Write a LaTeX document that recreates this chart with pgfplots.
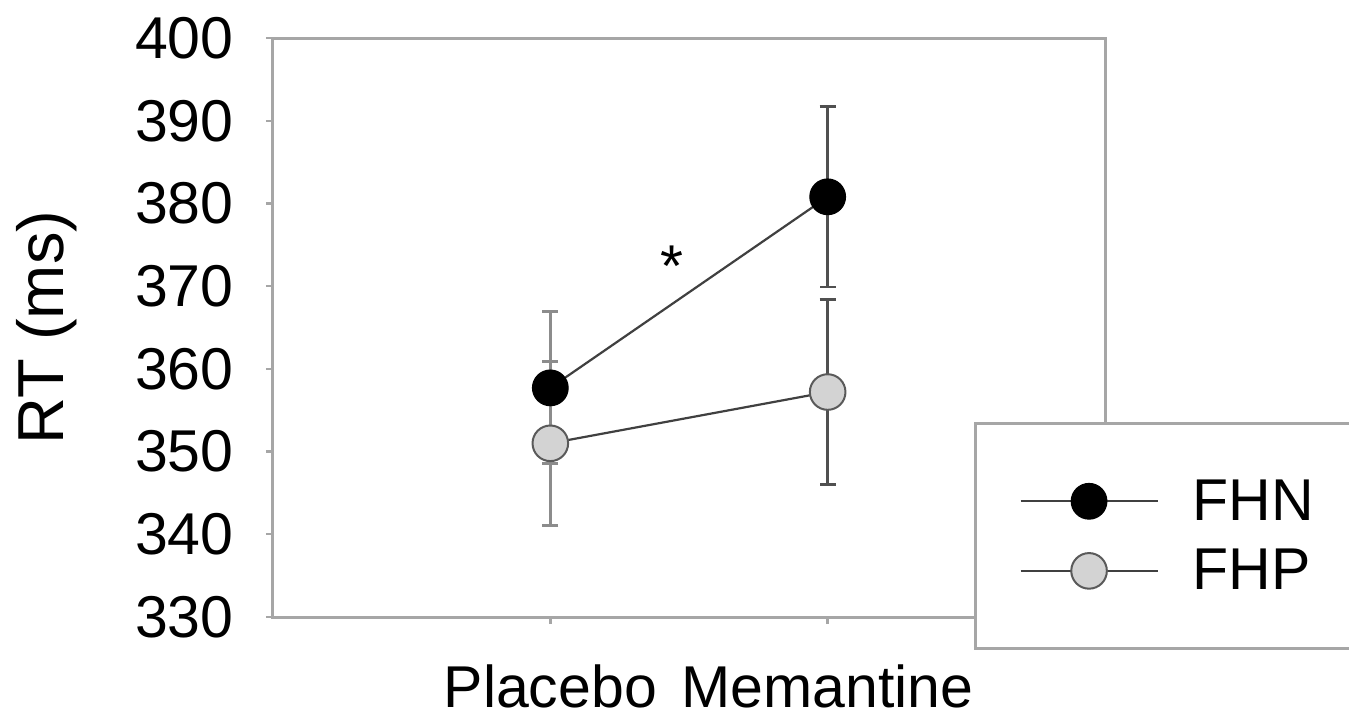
\documentclass[border=0pt]{standalone}
\usepackage{fontspec}
\setmainfont{Liberation Sans}
\usepackage{pgfplots}
\pgfplotsset{compat=1.18}
\usepackage{pgfplotstable}
\definecolor{axgray}{HTML}{A6A6A6}
\definecolor{errP}{HTML}{8C8C8C}
\definecolor{errM}{HTML}{505050}
\definecolor{lineC}{HTML}{404040}
\definecolor{fhpfill}{HTML}{D3D3D3}
\definecolor{fhpedge}{HTML}{5A5A5A}

\pgfplotstableread{
x y e
1 357.7 9.2
2 380.8 10.9
}\fhn
\pgfplotstableread{
x y e
1 351.0 9.9
2 357.2 11.2
}\fhp

\begin{document}
\begin{tikzpicture}
\begin{axis}[
  at={(136.5pt,48pt)}, anchor=south west,
  scale only axis, width=416pt, height=289.5pt,
  xmin=0, xmax=3, ymin=330, ymax=400,
  xtick={1,2}, xticklabels={Placebo,Memantine},
  ytick={330,340,...,400},
  tick align=outside, tick pos=left, major tick length=3.5pt,
  axis line style={draw=axgray, line width=1.5pt},
  tick style={draw=axgray, line width=1.2pt},
  tick label style={font=\fontsize{29.5}{35}\selectfont},
  /pgf/number format/assume math mode=true,
  yticklabel style={anchor=east, inner sep=0pt, xshift=-16pt},
  xticklabel style={anchor=north, inner sep=0pt, yshift=-20pt},
  ylabel={RT (ms)},
  ylabel style={at={(rel axis cs:-0.2524,0.5)}, anchor=base, inner sep=0pt, font=\fontsize{32.5}{38}\selectfont},
  legend cell align=left,
  legend style={at={(rel axis cs:0.8425,0.3368)}, anchor=north west,
    draw=axgray, line width=1.5pt, fill=white,
    inner xsep=22pt, inner ysep=28pt, row sep=13pt, column sep=17pt,
    font=\fontsize{29.5}{35}\selectfont, nodes={inner sep=0pt}},
  legend image code/.code={\draw[mark repeat=2, mark phase=2, #1] plot coordinates {(0pt,0pt) (34.25pt,0pt) (68.5pt,0pt)};},
  clip=false,
]
% error bars (drawn first, under the markers)
\addplot[forget plot, draw=none, restrict x to domain=0.5:1.5,
  error bars/.cd, y dir=both, y explicit,
  error bar style={draw=errP, line width=1.5pt, solid},
  error mark options={rotate=90, mark size=4pt, draw=errP, line width=1.5pt}]
  table[x=x, y=y, y error=e]{\fhn};
\addplot[forget plot, draw=none, restrict x to domain=0.5:1.5,
  error bars/.cd, y dir=both, y explicit,
  error bar style={draw=errP, line width=1.5pt, solid},
  error mark options={rotate=90, mark size=4pt, draw=errP, line width=1.5pt}]
  table[x=x, y=y, y error=e]{\fhp};
\addplot[forget plot, draw=none, restrict x to domain=1.5:2.5,
  error bars/.cd, y dir=both, y explicit,
  error bar style={draw=errM, line width=1.2pt, solid},
  error mark options={rotate=90, mark size=4pt, draw=errM, line width=1.2pt}]
  table[x=x, y=y, y error=e]{\fhn};
\addplot[forget plot, draw=none, restrict x to domain=1.5:2.5,
  error bars/.cd, y dir=both, y explicit,
  error bar style={draw=errM, line width=1.2pt, solid},
  error mark options={rotate=90, mark size=4pt, draw=errM, line width=1.2pt}]
  table[x=x, y=y, y error=e]{\fhp};
% series
\addplot[draw=lineC, line width=1.1pt, mark=*, mark size=8.9pt,
  mark options={fill=black, draw=black, line width=0.6pt}]
  table[x=x, y=y]{\fhn};
\addlegendentry{FHN\hspace{40pt}}
\addplot[draw=lineC, line width=1.1pt, mark=*, mark size=8.9pt,
  mark options={fill=fhpfill, draw=fhpedge, line width=1pt}]
  table[x=x, y=y]{\fhp};
\addlegendentry{FHP\hspace{40pt}}
\node[anchor=base, inner sep=0pt, font=\fontsize{29.5}{35}\selectfont] at (axis cs:1.438,369.9) {*};
\end{axis}
\pgfresetboundingbox
\path[use as bounding box] (0pt,0pt) rectangle (674.5pt,356.5pt);
\end{tikzpicture}
\end{document}
